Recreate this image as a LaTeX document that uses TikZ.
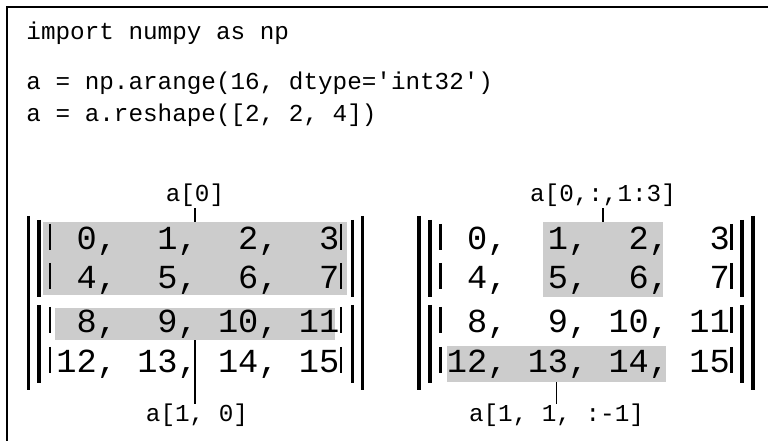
\documentclass[tikz,border=0pt]{standalone}
\usepackage{fontspec}
\setmainfont{Liberation Sans}
\setmonofont{Liberation Mono}
\usetikzlibrary{fit}
\definecolor{CellGray}{RGB}{204,204,204}

\begin{document}
\begin{tikzpicture}[x=0.4115pt,y=-0.4115pt,
  code/.style={font=\ttfamily\fontsize{10pt}{12pt}\selectfont,inner sep=0pt,anchor=base west},
  tag/.style={font=\ttfamily\fontsize{10pt}{12pt}\selectfont,inner sep=0pt,anchor=base},
  numrow/.style={font=\ttfamily\fontsize{13.85pt}{16pt}\selectfont,inner sep=0pt,anchor=base west},
  hl/.style={fill=CellGray,draw=none,inner sep=0pt},
  bar/.style={line width=1.25pt},
  pipe/.style={line width=1.15pt},
  tick/.style={line width=0.5pt},
]
\useasboundingbox (0,0) rectangle (768,441);
\draw[line width=0.75pt] (7,441) -- (7,7) -- (768,7);

% code
\node[code] (l1) at (26,40) {import numpy as np};
\node[code] (l2) at (26,90) {a = np.arange(16, dtype=\textquotesingle int32\textquotesingle)};
\node[code] (l3) at (26,122) {a = a.reshape([2, 2, 4])};

% highlighted slices
\node[hl,fit={(43,222) (347,295)}] (LA) {};
\node[hl,fit={(55,308) (335,340)}] (LB) {};
\node[hl,fit={(543,222) (663,297)}] (RA) {};
\node[hl,fit={(447,346) (666,382)}] (RB) {};

% left array
\node[numrow] (L1) at (56,250) {\ 0,\ \ 1,\ \ 2,\ \ 3};
\node[numrow] (L2) at (56,289) {\ 4,\ \ 5,\ \ 6,\ \ 7};
\node[numrow] (L3) at (56,333) {\ 8,\ \ 9,\ 10,\ 11};
\node[numrow] (L4) at (56,373) {12,\ 13,\ 14,\ 15};

% right array
\node[numrow] (R1) at (446.5,250) {\ 0,\ \ 1,\ \ 2,\ \ 3};
\node[numrow] (R2) at (446.5,289) {\ 4,\ \ 5,\ \ 6,\ \ 7};
\node[numrow] (R3) at (446.5,333) {\ 8,\ \ 9,\ 10,\ 11};
\node[numrow] (R4) at (446.5,373) {12,\ 13,\ 14,\ 15};

% brackets
\draw[bar] (28.5,216) -- (28.5,390) (362.5,216) -- (362.5,390);
\draw[bar] (39,220) -- (39,297) (352.5,220) -- (352.5,297);
\draw[bar] (39,305) -- (39,383) (352.5,305) -- (352.5,383);
\draw[bar] (419,216) -- (419,390) (753,216) -- (753,390);
\draw[bar] (430,220) -- (430,297) (742,220) -- (742,297);
\draw[bar] (430,305) -- (430,383) (742,305) -- (742,383);
\draw[pipe] (50,224) -- (50,250) (341,224) -- (341,250)
            (50,263) -- (50,289) (341,263) -- (341,289)
            (50,307) -- (50,333) (341,307) -- (341,333)
            (50,347) -- (50,373) (341,347) -- (341,373);
\draw[pipe] (440.5,224) -- (440.5,250) (731.5,224) -- (731.5,250)
            (440.5,263) -- (440.5,289) (731.5,263) -- (731.5,289)
            (440.5,307) -- (440.5,333) (731.5,307) -- (731.5,333)
            (440.5,347) -- (440.5,373) (731.5,347) -- (731.5,373);

% slice labels
\node[tag] (t0) at (195,202) {a[0]};
\node[tag] (t10) at (197,422) {a[1, 0]};
\node[tag] (t013) at (603,202) {a[0,:,1:3]};
\node[tag] (t11) at (556.5,422) {a[1, 1, :-1]};
\draw[tick] (LA.north) -- (LA.north |- t0.south);
\draw[tick] (LB.south) -- (LB.south |- t10.north);
\draw[tick] (RA.north) -- (RA.north |- t013.south);
\draw[tick] (RB.south) -- (RB.south |- t11.north);
\end{tikzpicture}
\end{document}
